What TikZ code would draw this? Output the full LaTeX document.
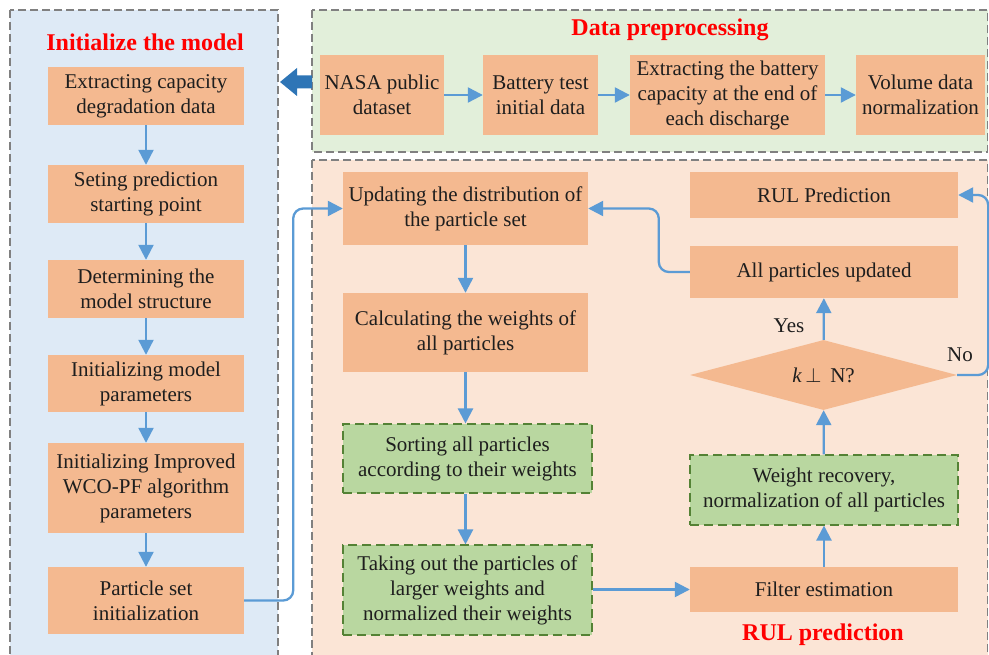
\documentclass[tikz,border=0pt]{standalone}
\usepackage{fontspec}
\setmainfont{Liberation Serif}
\usetikzlibrary{arrows.meta,shapes.geometric}
\definecolor{boxfill}{HTML}{F4B990}
\definecolor{greenfill}{HTML}{B9D7A0}
\definecolor{greenline}{HTML}{548235}
\definecolor{panelblue}{HTML}{DEEAF6}
\definecolor{panelgreen}{HTML}{E2EFDA}
\definecolor{panelpeach}{HTML}{FBE5D6}
\definecolor{panelline}{HTML}{808080}
\definecolor{arrowc}{HTML}{5B9BD5}
\definecolor{bigarrow}{HTML}{2E75B6}
\definecolor{textc}{HTML}{1E1E1E}
\definecolor{titlered}{HTML}{FF0000}
\begin{document}
\begin{tikzpicture}[x=1pt,y=-1pt,
  font=\fontsize{21}{25}\selectfont,
  panel/.style={draw=panelline, dashed, dash pattern=on 8pt off 4pt, line width=1.3pt},
  box/.style={fill=boxfill, text=textc, align=center, inner sep=0pt},
  gbox/.style={box, fill=greenfill, draw=greenline, dashed, dash pattern=on 9pt off 5pt, line width=1.1pt},
  title/.style={text=titlered, font=\fontsize{24}{28}\selectfont\bfseries},
  flow/.style={draw=arrowc, line width=2.3pt, rounded corners=10pt, -{Triangle[length=15pt,width=15pt]}},
  lbl/.style={text=textc}]
\useasboundingbox (0,0) rectangle (989,655);

% background panels
\begin{scope}
\clip (0,0) rectangle (989,655);
\filldraw[panel, fill=panelblue] (10,10) rectangle (278,680);
\filldraw[panel, fill=panelgreen] (312,10) rectangle (987.5,152);
\filldraw[panel, fill=panelpeach] (312,160) rectangle (987.5,680);
\end{scope}

% panel titles
\node[title] (t1) at (145,42) {Initialize the model};
\node[title] (t2) at (670,30) {Data preprocessing};
\node[title] (t3) at (823,635) {RUL prediction};

% model initialisation column
\node[box, minimum width=196pt, minimum height=58pt] (e1) at (146,96) {Extracting capacity\\degradation data};
\node[box, minimum width=196pt, minimum height=58pt] (e2) at (146,194) {Seting prediction\\starting point};
\node[box, minimum width=196pt, minimum height=58pt] (e3) at (146,289) {Determining the\\model structure};
\node[box, minimum width=196pt, minimum height=57pt] (e4) at (146,383.5) {Initializing model\\parameters};
\node[box, minimum width=196pt, minimum height=90pt] (e5) at (146,488) {Initializing Improved\\WCO-PF algorithm\\parameters};
\node[box, minimum width=196pt, minimum height=67pt] (e6) at (146,600.5) {Particle set\\initialization};

% preprocessing row
\node[box, minimum width=124pt, minimum height=80pt] (d1) at (382,95) {NASA public\\dataset};
\node[box, minimum width=115pt, minimum height=80pt] (d2) at (540.5,95) {Battery test\\initial data};
\node[box, minimum width=195pt, minimum height=80pt] (d3) at (727.5,95) {Extracting the battery\\capacity at the end of\\each discharge};
\node[box, minimum width=129pt, minimum height=80pt] (d4) at (920.5,95) {Volume data\\normalization};

% prediction loop
\node[box, minimum width=245pt, minimum height=73pt] (u1) at (465.5,208.5) {Updating the distribution of\\the particle set};
\node[box, minimum width=245pt, minimum height=79pt] (u2) at (465.5,332.5) {Calculating the weights of\\all particles};
\node[gbox, minimum width=249pt, minimum height=69pt] (u3) at (467.5,458.5) {Sorting all particles\\according to their weights};
\node[gbox, minimum width=249pt, minimum height=90pt] (u4) at (467.5,590) {Taking out the particles of\\larger weights and\\normalized their weights};
\node[box, minimum width=268pt, minimum height=45pt] (f1) at (824,589.5) {Filter estimation};
\node[gbox, minimum width=268pt, minimum height=70pt] (w1) at (824,490) {Weight recovery,\\normalization of all particles};
\node[box, diamond, shape aspect=3.8, minimum width=267pt, minimum height=70pt] (dm) at (823.5,375) {\textit{k}\,$\perp$\ \,N?};
\node[box, minimum width=268pt, minimum height=52pt] (a1) at (824,272) {All particles updated};
\node[box, minimum width=268pt, minimum height=46pt] (r1) at (824,195) {RUL Prediction};

% block arrow from the preprocessing panel to the model panel
\fill[bigarrow] (280,82) -- (297,68) -- (297,75.5) -- (312,75.5) -- (312,88.5) -- (297,88.5) -- (297,96) -- cycle;

% connectors
\draw[flow] (e1) -- (e2);
\draw[flow] (e2) -- (e3);
\draw[flow] (e3) -- (e4);
\draw[flow] (e4) -- (e5);
\draw[flow] (e5) -- (e6);
\draw[flow] (d1) -- (d2);
\draw[flow] (d2) -- (d3);
\draw[flow] (d3) -- (d4);
\draw[flow] (e6.east) -- ++(49,0) |- (u1.west);
\draw[flow] (u1) -- (u2);
\draw[flow] (u2.south) -- (u2.south |- u3.north);
\draw[flow] (u3.south -| u2.south) -- (u2.south |- u4.north);
\draw[flow] (u4.east |- f1.west) -- (f1.west);
\draw[flow] (f1) -- (w1);
\draw[flow] (w1) -- (dm);
\draw[flow] (dm) -- (a1);
\draw[flow] (dm.east) -- ++(31,0) |- (r1.east);
\draw[flow] (a1.west) -- ++(-31,0) |- (u1.east);

% branch labels
\node[lbl] (yes) at (789,326) {Yes};
\node[lbl] (no) at (960,355) {No};
\end{tikzpicture}
\end{document}
